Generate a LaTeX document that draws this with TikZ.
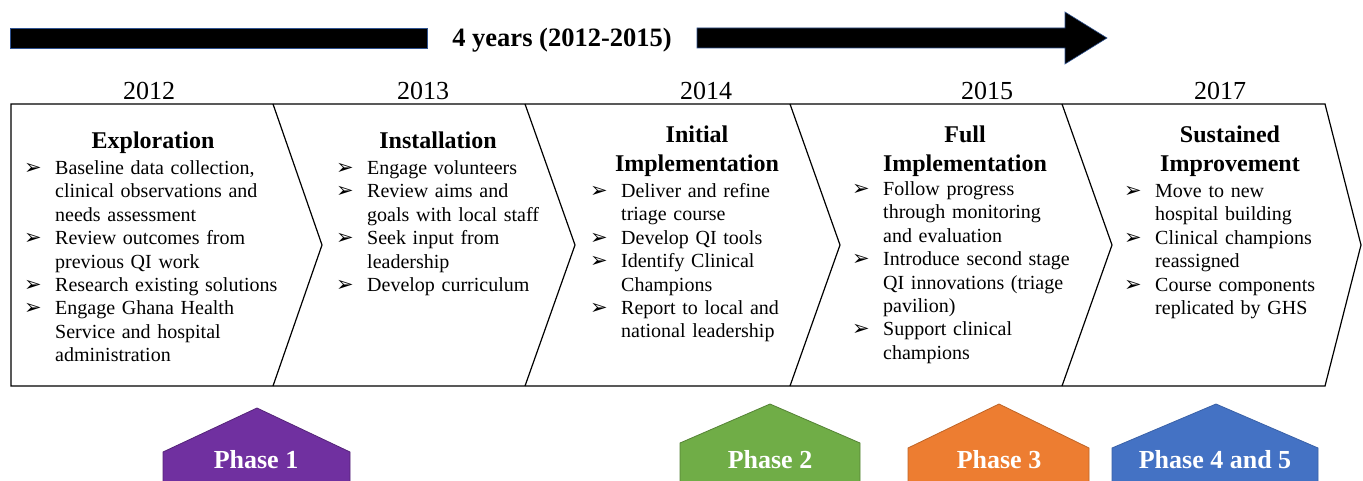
\documentclass[tikz,border=0pt]{standalone}
\usepackage{fontspec}
\setmainfont{Liberation Serif}
\newfontfamily\dejavu{DejaVu Sans}
\definecolor{barblue}{HTML}{2F528F}
\definecolor{phpurple}{HTML}{7030A0}
\definecolor{phgreen}{HTML}{70AD47}
\definecolor{phorange}{HTML}{ED7D31}
\definecolor{phblue}{HTML}{4472C4}
\newcommand\bul{{\dejavu\fontsize{21}{21}\selectfont ➢}}
\newcommand\itm[1]{\par\hangindent=31pt\hangafter=1\noindent\makebox[31pt][l]{\bul}\rule{0pt}{14pt}#1\par}
\tikzset{
 list/.style={anchor=north west, inner sep=0pt, text width=330pt, align=left, font=\fontsize{20}{23.4}\selectfont},
 ttl/.style={anchor=north, inner sep=0pt, align=center, font=\fontsize{24}{29}\selectfont\bfseries},
 yr/.style={anchor=base, inner sep=0pt, font=\fontsize{26}{30}\selectfont},
 phase/.style={anchor=base, inner sep=0pt, text=white, font=\fontsize{26}{30}\selectfont\bfseries},
 chev/.style={draw=black, line width=1.2pt, line join=miter},
 bar/.style={fill=black, draw=barblue, line width=0.6pt},
 house/.style={line width=0.8pt},
}
\begin{document}
\begin{tikzpicture}[x=1pt,y=-1pt]
\useasboundingbox (0,0) rectangle (1363,481);
% top arrow
\draw[bar] (10,28) rectangle (427,48);
\node[anchor=base, inner sep=0pt, font=\fontsize{26.5}{30}\selectfont\bfseries] (span) at (562,47) {4 years (2012-2015)};
\draw[bar] (697,28) -- (1065,28) -- (1065,12) -- (1107,38) -- (1065,64) -- (1065,48) -- (697,48) -- cycle;
% years
\node[yr] (y1) at (149,100) {2012};
\node[yr] (y2) at (423,100) {2013};
\node[yr] (y3) at (706,100) {2014};
\node[yr] (y4) at (987,100) {2015};
\node[yr] (y5) at (1220,100) {2017};
% chevrons
\draw[chev] (11,104) -- (1325,104) -- (1361,245) -- (1325,386) -- (11,386) -- cycle;
\draw[chev] (273,104) -- (322,245) -- (273,386);
\draw[chev] (525,104) -- (575,245) -- (525,386);
\draw[chev] (790,104) -- (840,245) -- (790,386);
\draw[chev] (1062,104) -- (1112,245) -- (1062,386);
% titles
\node[ttl] (t1) at (153,131) {\rule{0pt}{17pt}Exploration};
\node[ttl] (t2) at (438,131) {\rule{0pt}{17pt}Installation};
\node[ttl] (t3) at (697,125) {\rule{0pt}{17pt}Initial\\Implementation};
\node[ttl] (t4) at (965,125) {\rule{0pt}{17pt}Full\\Implementation};
\node[ttl] (t5) at (1230,125) {\rule{0pt}{17pt}Sustained\\Improvement};
% lists
\node[list] (l1) at (24,151) {%
\itm{Baseline data collection,\newline clinical observations and\newline needs assessment}
\itm{Review outcomes from\newline previous QI work}
\itm{Research existing solutions}
\itm{Engage Ghana Health\newline Service and hospital\newline administration}};
\node[list] (l2) at (336,151) {%
\itm{Engage volunteers}
\itm{Review aims and\newline goals with local staff}
\itm{Seek input from\newline leadership}
\itm{Develop curriculum}};
\node[list] (l3) at (590,174) {%
\itm{Deliver and refine\newline triage course}
\itm{Develop QI tools}
\itm{Identify Clinical\newline Champions}
\itm{Report to local and\newline national leadership}};
\node[list] (l4) at (852,172) {%
\itm{Follow progress\newline through monitoring\newline and evaluation}
\itm{Introduce second stage\newline QI innovations (triage\newline pavilion)}
\itm{Support clinical\newline champions}};
\node[list] (l5) at (1124,174) {%
\itm{Move to new\newline hospital building}
\itm{Clinical champions\newline reassigned}
\itm{Course components\newline replicated by GHS}};
% phases
\draw[house, fill=phpurple, draw=phpurple!75!black] (163,486) -- (163,452) -- (257,408) -- (350,452) -- (350,486);
\draw[house, fill=phgreen, draw=phgreen!75!black] (680,486) -- (680,443) -- (770,404) -- (860,443) -- (860,486);
\draw[house, fill=phorange, draw=phorange!80!black] (908,486) -- (908,448) -- (999,404) -- (1089,448) -- (1089,486);
\draw[house, fill=phblue, draw=phblue!85!black] (1112,486) -- (1112,448) -- (1216,404) -- (1318,448) -- (1318,486);
\node[phase] (p1) at (256,468) {Phase 1};
\node[phase] (p2) at (770,468) {Phase 2};
\node[phase] (p3) at (999,468) {Phase 3};
\node[phase] (p4) at (1215,468) {Phase 4 and 5};
\end{tikzpicture}
\end{document}
